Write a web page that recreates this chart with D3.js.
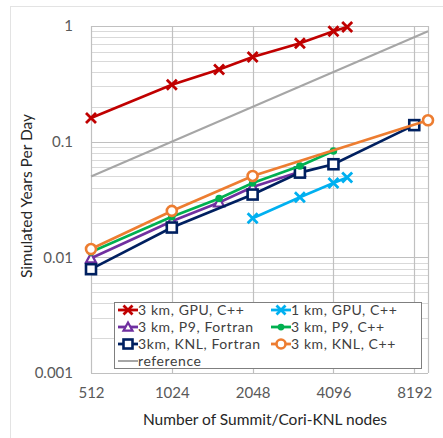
<!DOCTYPE html>
<html>
<head>
<meta charset="utf-8">
<script src="https://cdn.jsdelivr.net/npm/d3@7"></script>
<style>
  body { margin: 0; background: #fff; }
  text { font-family: Lato, "Open Sans", sans-serif; }
</style>
</head>
<body>
<div id="chart"></div>
<script>
/* scaling data: simulated years per day vs node count */
var xTicks = [512, 1024, 2048, 4096, 8192];
var yTicks = [0.001, 0.01, 0.1, 1];

var gpu3Nodes = [512, 1024, 1536, 2048, 3072, 4096, 4608];
var gpu3Vals  = [0.16, 0.31, 0.42, 0.54, 0.71, 0.90, 0.98];

var gpu1Nodes = [2048, 3072, 4096, 4608];
var gpu1Vals  = [0.0218, 0.033, 0.044, 0.049];

var p9fNodes = [512, 1024, 1536, 2048, 3072];
var p9fVals  = [0.0098, 0.0205, 0.0298, 0.0406, 0.055];

var p9cNodes = [512, 1024, 1536, 2048, 3072, 4096];
var p9cVals  = [0.0111, 0.0224, 0.0322, 0.044, 0.0616, 0.083];

var knlfNodes = [512, 1024, 2048, 3072, 4096, 8192];
var knlfVals  = [0.0079, 0.0181, 0.0349, 0.054, 0.0638, 0.139];

var knlcNodes = [512, 1024, 2048, 9216];
var knlcVals  = [0.0118, 0.0252, 0.0505, 0.153];

var refNodes = [512, 9216];
var refVals  = [0.05, 0.9];

var series = [
    {name: "3 km, GPU, C++",      nodes: gpu3Nodes, vals: gpu3Vals, color: "#c00000", mark: "x"},
    {name: "1 km, GPU, C++",      nodes: gpu1Nodes, vals: gpu1Vals, color: "#00b0f0", mark: "x"},
    {name: "3 km, P9, Fortran",   nodes: p9fNodes,  vals: p9fVals,  color: "#7030a0", mark: "tri"},
    {name: "3 km, P9, C++",       nodes: p9cNodes,  vals: p9cVals,  color: "#00b050", mark: "dot"},
    {name: "3km, KNL, Fortran",   nodes: knlfNodes, vals: knlfVals, color: "#002060", mark: "sq"},
    {name: "3 km, KNL, C++",      nodes: knlcNodes, vals: knlcVals, color: "#ed7d31", mark: "circ"},
    {name: "reference",           nodes: refNodes,  vals: refVals,  color: "#a6a6a6", mark: "none"}
];

var width = 443, height = 438;

var svg = d3.select("#chart").append("svg")
    .attr("width", width)
    .attr("height", height);

// faint outer frame
svg.append("rect")
    .attr("x", 10.5).attr("y", 6.5)
    .attr("width", 440).attr("height", 440)
    .attr("fill", "none")
    .attr("stroke", "#e3e3e3");

var x = d3.scaleLog().base(2)
    .domain([512, 9216])
    .range([91, 428]);

var y = d3.scaleLog()
    .domain([0.001, 1])
    .range([373, 26]);

var g = svg.append("g");

/* minor horizontal grid (2..9 per decade) */
var minor = [];
[0.001, 0.01, 0.1].forEach(function (d) {
    for (var k = 2; k <= 9; k++) minor.push(d * k);
});
g.selectAll(".minor").data(minor).enter().append("line")
    .attr("x1", x(512)).attr("x2", x(9216))
    .attr("y1", function (d) { return Math.round(y(d)) + 0.5; })
    .attr("y2", function (d) { return Math.round(y(d)) + 0.5; })
    .attr("stroke", "#d9d9d9").attr("stroke-width", 1);

g.selectAll(".major").data(yTicks).enter().append("line")
    .attr("x1", x(512)).attr("x2", x(9216))
    .attr("y1", function (d) { return Math.round(y(d)) + 0.5; })
    .attr("y2", function (d) { return Math.round(y(d)) + 0.5; })
    .attr("stroke", "#c0c0c0").attr("stroke-width", 1.2);

g.selectAll(".vgrid").data(xTicks.concat([9216])).enter().append("line")
    .attr("x1", function (d) { return Math.round(x(d)) + 0.5; })
    .attr("x2", function (d) { return Math.round(x(d)) + 0.5; })
    .attr("y1", y(1)).attr("y2", y(0.001))
    .attr("stroke", "#c0c0c0").attr("stroke-width", 1.2);

/* axes */
var yAxis = d3.axisLeft(y).tickValues(yTicks)
    .tickFormat(function (d) { return d3.format("")(d); })
    .tickSize(0).tickPadding(18);
var ya = svg.append("g").attr("transform", "translate(" + x(512) + ",0)").call(yAxis);
ya.select(".domain").remove();
ya.selectAll("text").attr("fill", "#595959").style("font-family", "Lato").style("font-size", "15px");

var xAxis = d3.axisBottom(x).tickValues(xTicks)
    .tickFormat(d3.format("d"))
    .tickSize(0).tickPadding(14);
var xa = svg.append("g").attr("transform", "translate(0," + y(0.001) + ")").call(xAxis);
xa.select(".domain").remove();
xa.selectAll("text").attr("fill", "#595959").style("font-family", "Lato").style("font-size", "15px");

svg.append("text")
    .attr("x", 265).attr("y", 425)
    .attr("text-anchor", "middle")
    .attr("fill", "#262626")
    .style("font-size", "15.5px")
    .text("Number of Summit/Cori-KNL nodes");

svg.append("text")
    .attr("transform", "translate(32,196) rotate(-90)")
    .attr("text-anchor", "middle")
    .attr("fill", "#262626")
    .style("font-size", "15.5px")
    .text("Simulated Years Per Day");

/* markers */
function drawMarker(sel, s, size) {
    var r = size / 2;
    if (s.mark === "x") {
        sel.append("path")
            .attr("d", "M" + (-r) + "," + (-r) + "L" + r + "," + r + "M" + (-r) + "," + r + "L" + r + "," + (-r))
            .attr("stroke", s.color).attr("stroke-width", 2.8).attr("fill", "none");
    } else if (s.mark === "tri") {
        sel.append("path")
            .attr("d", "M0," + (-r) + "L" + r + "," + (r * 0.8) + "L" + (-r) + "," + (r * 0.8) + "Z")
            .attr("stroke", s.color).attr("stroke-width", 2.2).attr("fill", "#fff");
    } else if (s.mark === "dot") {
        sel.append("circle").attr("r", r * 0.75).attr("fill", s.color);
    } else if (s.mark === "sq") {
        sel.append("rect")
            .attr("x", -r).attr("y", -r).attr("width", size).attr("height", size)
            .attr("stroke", s.color).attr("stroke-width", 2.6).attr("fill", "#fff");
    } else if (s.mark === "circ") {
        sel.append("circle").attr("r", r)
            .attr("stroke", s.color).attr("stroke-width", 2.6).attr("fill", "#fff");
    }
}

var line = d3.line()
    .x(function (d) { return x(d[0]); })
    .y(function (d) { return y(d[1]); });

var drawOrder = [6, 0, 1, 2, 4, 3, 5];
drawOrder.forEach(function (i) {
    var s = series[i];
    var pts = s.nodes.map(function (n, j) { return [n, s.vals[j]]; });
    g.append("path")
        .datum(pts)
        .attr("d", line)
        .attr("fill", "none")
        .attr("stroke", s.color)
        .attr("stroke-width", s.mark === "none" ? 2 : 2.7);
    pts.forEach(function (p) {
        var m = g.append("g").attr("transform", "translate(" + x(p[0]) + "," + y(p[1]) + ")");
        drawMarker(m, s, 10);
    });
});

/* legend */
var leg = svg.append("g");
leg.append("rect")
    .attr("x", 114.5).attr("y", 302.5)
    .attr("width", 307).attr("height", 66)
    .attr("fill", "#fff")
    .attr("stroke", "#7f7f7f").attr("stroke-width", 1);

var legPos = [[118, 310], [271, 310], [118, 327], [271, 327], [118, 344], [271, 344], [118, 361]];
series.forEach(function (s, i) {
    var p = legPos[i];
    var it = leg.append("g").attr("transform", "translate(" + p[0] + "," + p[1] + ")");
    it.append("line").attr("x1", 0).attr("x2", 20).attr("y1", 0).attr("y2", 0)
        .attr("stroke", s.color).attr("stroke-width", s.mark === "none" ? 2 : 2.8);
    var m = it.append("g").attr("transform", "translate(10,0)");
    drawMarker(m, s, 9);
    it.append("text").attr("x", 20).attr("y", 5)
        .attr("fill", "#404040")
        .style("font-size", "14px")
        .style("letter-spacing", "0.6px")
        .text(s.name);
});
</script>
</body>
</html>
